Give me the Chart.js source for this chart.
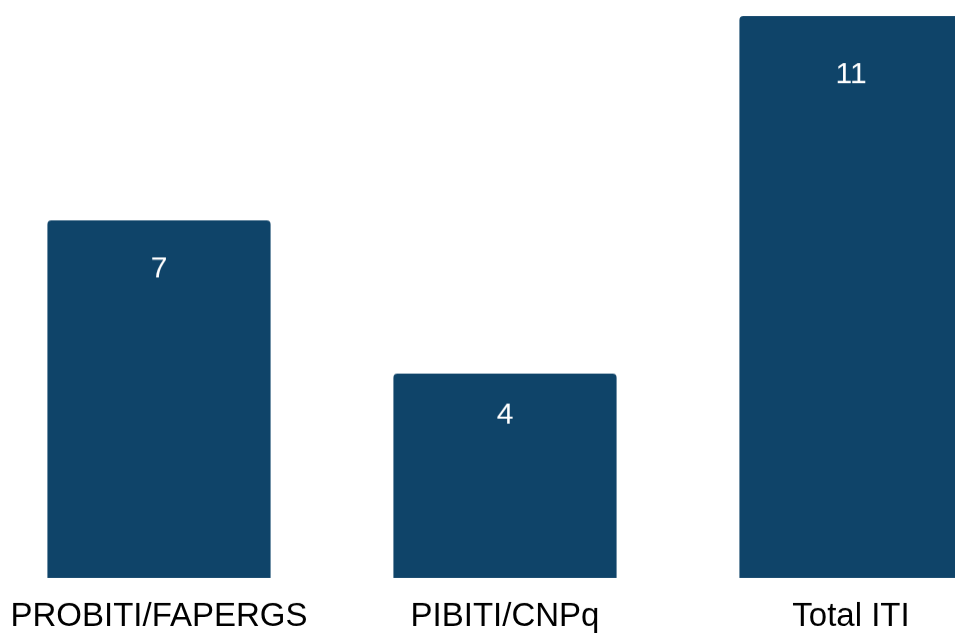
<!DOCTYPE html>
<html lang="pt">
<head>
  <meta charset="UTF-8">
  <title>Bolsas ITI</title>
  <script src="https://cdn.jsdelivr.net/npm/chart.js"></script>
  <style>
    body {
      margin: 0;
      background: #ffffff;
      overflow: hidden;
      font-family: "Liberation Sans", Arial, sans-serif;
    }

    .chart-box {
      position: absolute;
      left: -14.5px;
      top: 0;
      width: 1038px;
      height: 654.5px;
    }
  </style>
</head>
<body>
  <div class="chart-box">
    <canvas id="bolsasChart"></canvas>
  </div>

  <script>
    const categories = ['PROBITI/FAPERGS', 'PIBITI/CNPq', 'Total ITI'];
    const bolsas = [7, 4, 11];

    // numbers inside the bars, near the top
    const valueLabels = {
      id: 'valueLabels',
      afterDatasetsDraw(chart) {
        const { ctx } = chart;
        const meta = chart.getDatasetMeta(0);
        const base = chart.scales.y.getPixelForValue(0);
        ctx.save();
        ctx.fillStyle = '#ffffff';
        ctx.font = '30px "Liberation Sans", Arial, sans-serif';
        ctx.textAlign = 'center';
        ctx.textBaseline = 'middle';
        meta.data.forEach((bar, i) => {
          const h = base - bar.y;
          ctx.fillText(String(bolsas[i]), bar.x, bar.y + 32 + 0.048 * h);
        });
        ctx.restore();
      }
    };

    const ctx = document.getElementById('bolsasChart').getContext('2d');
    new Chart(ctx, {
      type: 'bar',
      data: {
        labels: categories,
        datasets: [{
          data: bolsas,
          backgroundColor: '#0f4469',
          borderRadius: { topLeft: 4, topRight: 4 },
          borderSkipped: 'bottom',
          barPercentage: 0.645,
          categoryPercentage: 1
        }]
      },
      options: {
        responsive: true,
        maintainAspectRatio: false,
        animation: false,
        layout: { padding: { top: 16, left: 0, right: 0, bottom: 0 } },
        plugins: {
          legend: { display: false },
          tooltip: { enabled: false }
        },
        scales: {
          x: {
            grid: { display: false, drawTicks: false },
            border: { display: false },
            ticks: {
              color: '#000000',
              padding: 19,
              font: { family: '"Liberation Sans", Arial, sans-serif', size: 33 }
            }
          },
          y: {
            display: false,
            min: 0,
            max: 11
          }
        }
      },
      plugins: [valueLabels]
    });
  </script>
</body>
</html>
